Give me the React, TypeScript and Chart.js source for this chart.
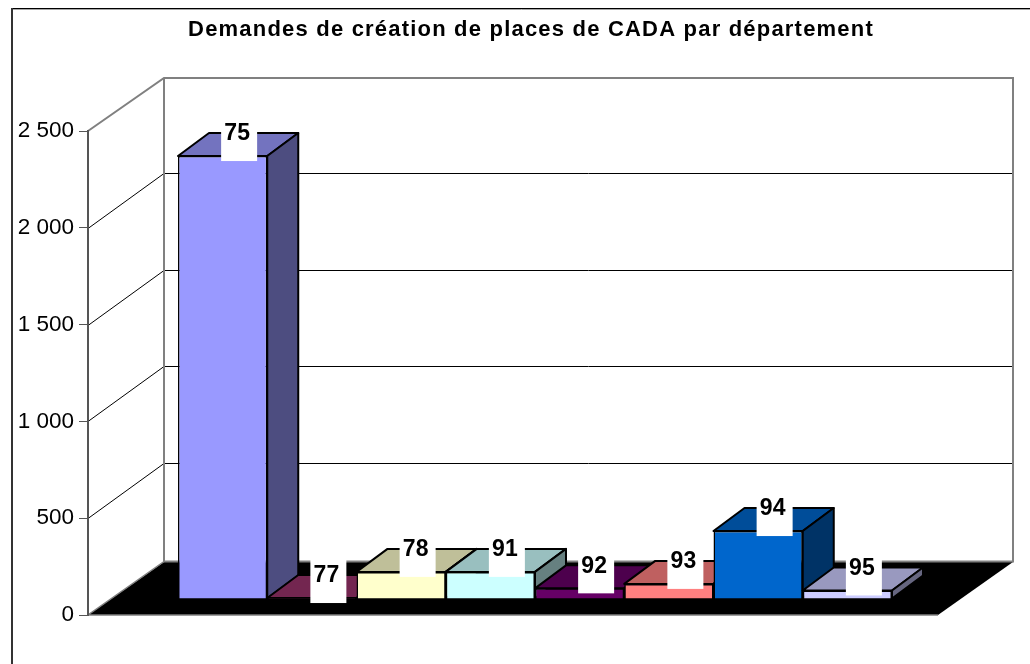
import React, { useEffect, useRef } from "react";
import { Chart, registerables } from "chart.js";

Chart.register(...registerables);

const TITLE = "Demandes de création de places de CADA par département";
const CATEGORY = [""];
const departments = ["75", "77", "78", "91", "92", "93", "94", "95"];
const demandes = [2288, 5, 140, 140, 55, 78, 351, 44];
const fronts = ["#9999FF", "#993366", "#FFFFCC", "#CCFFFF", "#660066", "#FF8080", "#0066CC", "#CCCCFF"];
const tops = ["#7373BF", "#732650", "#BFBF99", "#99BFBF", "#4D004D", "#BF6060", "#004D99", "#9999BF"];
const sides = ["#4D4D80", "#4D1A33", "#808066", "#668080", "#330033", "#804040", "#003366", "#666680"];
const FONT = '"Liberation Sans", Arial, sans-serif';

const threeD = {
  id: "threeD",
  beforeDraw(chart: any) {
    const { ctx } = chart;
    const y = chart.scales.y;
    const wall = { dx: 76, dy: -53 };
    const L = chart.chartArea.left;
    const R = chart.chartArea.right;
    const B = y.getPixelForValue(0);
    const T = y.getPixelForValue(2500);
    ctx.save();
    ctx.fillStyle = "#fff";
    ctx.fillRect(0, 0, chart.width, chart.height);
    // frame
    ctx.strokeStyle = "#a6a6a6";
    ctx.lineWidth = 1;
    ctx.beginPath();
    ctx.moveTo(13, 9.5);
    ctx.lineTo(chart.width, 9.5);
    ctx.stroke();
    ctx.strokeStyle = "#000";
    ctx.beginPath();
    ctx.moveTo(12, 8.5);
    ctx.lineTo(chart.width, 8.5);
    ctx.stroke();
    ctx.strokeStyle = "#333";
    ctx.lineWidth = 2;
    ctx.beginPath();
    ctx.moveTo(12, 8);
    ctx.lineTo(12, chart.height);
    ctx.stroke();
    // floor
    ctx.fillStyle = "#000";
    ctx.beginPath();
    ctx.moveTo(L, B);
    ctx.lineTo(R, B);
    ctx.lineTo(R + wall.dx - 1, B + wall.dy);
    ctx.lineTo(L + wall.dx, B + wall.dy);
    ctx.closePath();
    ctx.fill();
    // gridlines
    ctx.strokeStyle = "#000";
    ctx.lineWidth = 1;
    for (const t of y.ticks) {
      if (t.value === 0 || t.value === 2500) continue;
      const py = Math.round(y.getPixelForValue(t.value)) + 0.5;
      ctx.beginPath();
      ctx.moveTo(L, py);
      ctx.lineTo(L + wall.dx, py + wall.dy - 2);
      ctx.lineTo(R + wall.dx - 1, py + wall.dy - 2);
      ctx.stroke();
    }
    // wall outlines
    ctx.strokeStyle = "#808080";
    ctx.lineWidth = 2;
    ctx.beginPath();
    ctx.moveTo(L, T);
    ctx.lineTo(L + wall.dx, T + wall.dy);
    ctx.lineTo(R + wall.dx - 1, T + wall.dy);
    ctx.lineTo(R + wall.dx - 1, B + wall.dy);
    ctx.stroke();
    ctx.beginPath();
    ctx.moveTo(L + wall.dx, T + wall.dy);
    ctx.lineTo(L + wall.dx, B + wall.dy);
    ctx.stroke();
    ctx.lineWidth = 1.5;
    ctx.beginPath();
    ctx.moveTo(L + wall.dx, B + wall.dy - 0.5);
    ctx.lineTo(L, B);
    ctx.lineTo(R, B);
    ctx.stroke();
    ctx.lineWidth = 2;
    ctx.beginPath();
    ctx.moveTo(L + wall.dx, B + wall.dy - 0.5);
    ctx.lineTo(R + wall.dx, B + wall.dy - 0.5);
    ctx.stroke();
    ctx.restore();
  },
  beforeDatasetsDraw(chart: any) {
    const { ctx } = chart;
    const shift = { x: 22, y: -16 };
    const depth = { x: 31, y: -23 };
    ctx.save();
    ctx.translate(shift.x, shift.y);
    chart.data.datasets.forEach((_: any, i: number) => {
      const bar = chart.getDatasetMeta(i).data[0];
      const { x, y, base, width } = bar.getProps(["x", "y", "base", "width"], true);
      const l = x - width / 2;
      const r = x + width / 2;
      ctx.lineWidth = 2;
      ctx.strokeStyle = "#000";
      ctx.lineJoin = "round";
      ctx.fillStyle = tops[i];
      ctx.beginPath();
      ctx.moveTo(l, y);
      ctx.lineTo(l + depth.x, y + depth.y);
      ctx.lineTo(r + depth.x, y + depth.y);
      ctx.lineTo(r, y);
      ctx.closePath();
      ctx.fill();
      ctx.stroke();
      ctx.fillStyle = sides[i];
      ctx.beginPath();
      ctx.moveTo(r, y);
      ctx.lineTo(r + depth.x, y + depth.y);
      ctx.lineTo(r + depth.x, base + depth.y);
      ctx.lineTo(r, base);
      ctx.closePath();
      ctx.fill();
      ctx.stroke();
      bar.draw(ctx);
    });
    // data labels
    chart.data.datasets.forEach((ds: any, i: number) => {
      const bar = chart.getDatasetMeta(i).data[0];
      const { x, y } = bar.getProps(["x", "y"], true);
      const ty = y - 23;
      ctx.fillStyle = "#fff";
      ctx.fillRect(x + 16.5 - 18, ty - 17, 36, 45);
      ctx.fillStyle = "#000";
      ctx.font = `bold 23px ${FONT}`;
      ctx.textAlign = "center";
      ctx.textBaseline = "middle";
      ctx.fillText(ds.label, x + 14.5, ty + 1);
    });
    ctx.restore();
    // title
    ctx.save();
    ctx.fillStyle = "#000";
    ctx.font = `bold 22px ${FONT}`;
    (ctx as any).letterSpacing = "1.2px";
    ctx.textAlign = "center";
    ctx.textBaseline = "alphabetic";
    ctx.fillText(TITLE, 531, 36);
    ctx.restore();
    return false;
  },
};

export default function App() {
  const ref = useRef<HTMLCanvasElement | null>(null);
  useEffect(() => {
    const chart = new Chart(ref.current as HTMLCanvasElement, {
      type: "bar",
      data: {
        labels: CATEGORY,
        datasets: departments.map((d, i) => ({
          label: d,
          data: [demandes[i]],
          backgroundColor: fronts[i],
          borderColor: "#000",
          borderWidth: 1.5,
          barPercentage: 1,
          categoryPercentage: 0.84,
        })),
      },
      options: {
        animation: false,
        responsive: false,
        layout: { padding: { left: 0, right: 92, top: 131, bottom: 49 } },
        plugins: { legend: { display: false }, tooltip: { enabled: false }, title: { display: false } },
        scales: {
          x: { display: false },
          y: {
            min: 0,
            max: 2500,
            afterFit: (s: any) => { s.width = 88; },
            border: { display: true, color: "#555", width: 2 },
            grid: { drawOnChartArea: false, drawTicks: true, tickLength: 9, color: "#555", lineWidth: 1 },
            ticks: {
              stepSize: 500,
              padding: 5,
              color: "#000",
              font: { family: FONT, size: 22.5 },
              callback: (v: any) => String(v).replace(/\B(?=(\d{3})+$)/g, " "),
            },
          },
        },
      },
      plugins: [threeD],
    } as any);
    return () => chart.destroy();
  }, []);
  return (
    <div style={{ position: "fixed", left: 0, top: 0 }}>
      <canvas ref={ref} width={1030} height={664} style={{ display: "block" }} />
    </div>
  );
}
